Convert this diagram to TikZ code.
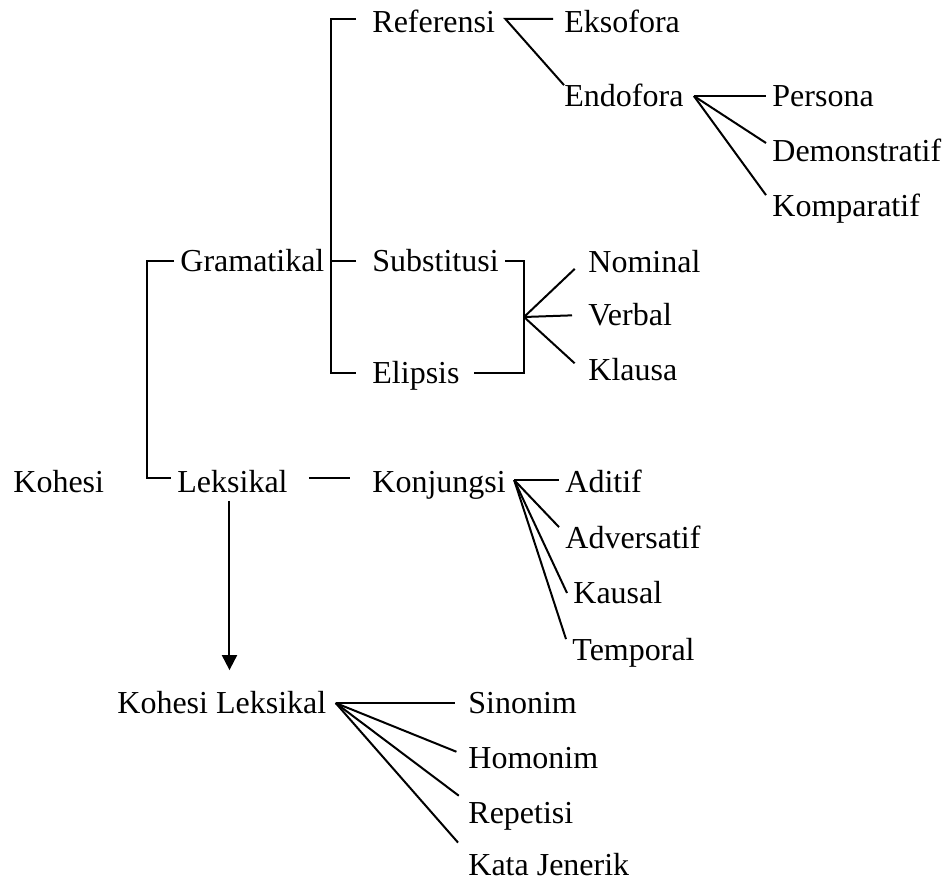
\documentclass[tikz,border=0pt]{standalone}
\usepackage{fontspec}
\setmainfont{Liberation Serif}
\usepackage{tikz}
\usetikzlibrary{arrows.meta}

\begin{document}
\begin{tikzpicture}[x=0.5pt,y=-0.5pt]

        \tikzstyle{term}=[anchor=west,inner xsep=3pt,inner ysep=0pt,text height=10.5pt,text depth=0pt,font=\fontsize{16}{19}\selectfont]
        \tikzstyle{branch}=[line width=1pt]

        \useasboundingbox (0,0) rectangle (946,882);

        %% Kohesi
        \node[term] (kohesi) at (7,482) {Kohesi};
        \node[term] (gram) at (174,261) {Gramatikal};
        \node[term] (leks) at (171,482) {Leksikal};
        \coordinate (kbar) at (147,372);
        \draw[branch] (gram.west) -| (kbar) |- ([yshift=2pt]leks.west);

        %% Gramatikal
        \node[term] (ref) at (366,22) {Referensi};
        \node[term] (subs) at (366,261) {Substitusi};
        \node[term] (elip) at (366,373) {Elipsis};
        \coordinate (gbar) at (331,200);
        \draw[branch,shorten <=5pt,shorten >=5pt] ([yshift=1.5pt]ref.west) -| (gbar) |- (elip.west);
        \draw[branch,shorten <=5pt] (subs.west) -- (subs.west -| gbar);

        %% Referensi
        \node[term] (eks) at (558,22) {Eksofora};
        \node[term] (endo) at (558,96) {Endofora};
        \coordinate (refsplit) at ([xshift=2pt,yshift=1.5pt]ref.east);
        \draw[branch,shorten <=2.5pt] ([yshift=1.5pt]eks.west) -- (refsplit) -- ([xshift=3pt]endo.north west);

        %% Endofora
        \node[term] (pers) at (766,96) {Persona};
        \node[term] (demo) at (766,151) {Demonstratif};
        \node[term] (komp) at (766,206) {Komparatif};
        \coordinate (endsplit) at ([xshift=2pt]endo.east);
        \draw[branch] (endsplit) -- (pers.west);
        \draw[branch] (endsplit) -- ([yshift=4pt]demo.west);
        \draw[branch] (endsplit) -- (komp.north west);

        %% Substitusi dan Elipsis
        \node[term] (nom) at (582,262) {Nominal};
        \node[term] (verb) at (582,315) {Verbal};
        \node[term] (klau) at (582,370) {Klausa};
        \coordinate (sesplit) at (524,317);
        \draw[branch,shorten >=4pt] (subs.east) -| (sesplit) |- (elip.east);
        \draw[branch,shorten >=5pt] (sesplit) -- (nom.west);
        \draw[branch,shorten >=5pt] (sesplit) -- (verb.west);
        \draw[branch,shorten >=5pt] (sesplit) -- (klau.west);

        %% Konjungsi
        \node[term] (konj) at (366,482) {Konjungsi};
        \draw[branch,shorten <=7.5pt,shorten >=8pt] ([yshift=2pt]leks.east) -- ([yshift=2pt]konj.west);
        \node[term] (adit) at (559,482) {Aditif};
        \node[term] (adv) at (559,538) {Adversatif};
        \node[term] (kaus) at (567,593) {Kausal};
        \node[term] (temp) at (566,650) {Temporal};
        \coordinate (kjsplit) at ([xshift=1pt,yshift=1pt]konj.east);
        \draw[branch] (kjsplit) -- (kjsplit -| adit.west);
        \draw[branch] (kjsplit) -- (adv.north west);
        \draw[branch] (kjsplit) -- (kaus.west);
        \draw[branch] (kjsplit) -- (temp.north west);

        %% Kohesi Leksikal
        \node[term] (kl) at (111,703) {Kohesi Leksikal};
        \draw[branch,-{Triangle[width=7.5pt,length=7.5pt]},shorten <=4pt,shorten >=11pt] ([xshift=-1.5pt]leks.south) -- ([xshift=-1.5pt]leks.south |- kl.north);
        \node[term] (sin) at (462,703) {Sinonim};
        \node[term] (hom) at (462,758) {Homonim};
        \node[term] (rep) at (462,813) {Repetisi};
        \node[term] (kj) at (462,865) {Kata Jenerik};
        \coordinate (klsplit) at ([xshift=1.5pt]kl.east);
        \draw[branch,shorten >=3.5pt] (klsplit) -- (sin.west);
        \draw[branch,shorten >=3pt] (klsplit) -- ([yshift=2pt]hom.west);
        \draw[branch,shorten >=2pt] (klsplit) -- ([yshift=2pt]rep.north west);
        \draw[branch,shorten >=3pt] (klsplit) -- ([yshift=3.5pt]kj.north west);

\end{tikzpicture}
\end{document}
